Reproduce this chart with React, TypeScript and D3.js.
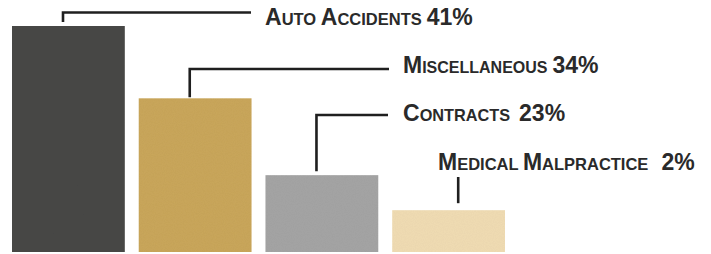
import React from "react";
import * as d3 from "d3";

const categories = ["Auto Accidents", "Miscellaneous", "Contracts", "Medical Malpractice"];
const values = [41, 34, 23, 2];
const colors = ["#4a4846", "#caa75b", "#a5a5a5", "#f1ddb4"];
// the artwork's bars are not drawn to scale; display scale
const displayDomain = [2, 23, 34, 41];
const displayShare = [0.185, 0.34, 0.68, 1.0];

const W = 711;
const H = 254;
const baseY = 252;
const topY = 26;

function smallCaps(label: string, big: number, small: number) {
  const words = label.split(" ");
  const out: { t: string; s: number }[] = [];
  words.forEach((w, i) => {
    const sep = i < words.length - 1 ? " " : "";
    out.push({ t: w[0].toUpperCase(), s: big });
    out.push({ t: w.slice(1).toUpperCase() + sep, s: small });
  });
  return out;
}

export default function App() {
  const x = d3
    .scaleBand<string>()
    .domain(categories)
    .range([12, 505])
    .paddingInner(0.11)
    .paddingOuter(0);
  const hScale = d3
    .scaleLinear()
    .domain(displayDomain)
    .range(displayShare.map((s) => s * (baseY - topY)));

  const layout = [
    { lx: 265, by: 25, ly: 12.5, off: 51, ex: 251, gap: 5, sm: 16.5 },
    { lx: 403, by: 73, ly: 69, off: 51, ex: 389, gap: 5, sm: 16 },
    { lx: 403, by: 121, ly: 115, off: 51, ex: 388, gap: 9, sm: 16.3 },
    { lx: 438, by: 170, ly: 177, off: 66, ex: 0, gap: 13, sm: 16.5 },
  ];

  return (
    <svg
      width={W}
      height={H}
      style={{ position: "absolute", left: 0, top: 0, background: "#fff" }}
      fontFamily="'Liberation Sans', Arial, Helvetica, sans-serif"
      fontWeight="bold"
    >
      <defs>
        <filter id="grain" x="0" y="0" width="100%" height="100%">
          <feTurbulence type="fractalNoise" baseFrequency="0.9" numOctaves="2" seed="3" result="n" />
          <feColorMatrix in="n" type="matrix" values="0 0 0 0 0  0 0 0 0 0  0 0 0 0 0  0 0 0 0.07 0" result="a" />
          <feComposite in="a" in2="SourceGraphic" operator="in" result="g" />
          <feMerge>
            <feMergeNode in="SourceGraphic" />
            <feMergeNode in="g" />
          </feMerge>
        </filter>
      </defs>
      {categories.map((c, i) => {
        const bx = x(c)!;
        const bw = x.bandwidth();
        const h = hScale(values[i]);
        const by = baseY - h;
        const L = layout[i];
        const vx = bx + L.off;
        const segs = smallCaps(c, 23, L.sm);
        return (
          <g key={c}>
            <rect x={bx} y={by} width={bw} height={h} fill={colors[i]} filter="url(#grain)" />
            {i < 3 ? (
              <path
                d={`M${vx},${by - (i === 1 ? 1 : 4)}V${L.ly}H${L.ex}`}
                fill="none"
                stroke="#1f1f1f"
                strokeWidth={2.6}
              />
            ) : (
              <path d={`M${vx},${L.ly}V${by - 7}`} fill="none" stroke="#1f1f1f" strokeWidth={2.6} />
            )}
            <text x={L.lx} y={L.by} fill="#2a2a2a">
              {segs.map((s, k) => (
                <tspan key={k} fontSize={s.s}>
                  {s.t}
                </tspan>
              ))}
              <tspan fontSize={23} dx={L.gap}>{values[i] + "%"}</tspan>
            </text>
          </g>
        );
      })}
    </svg>
  );
}
